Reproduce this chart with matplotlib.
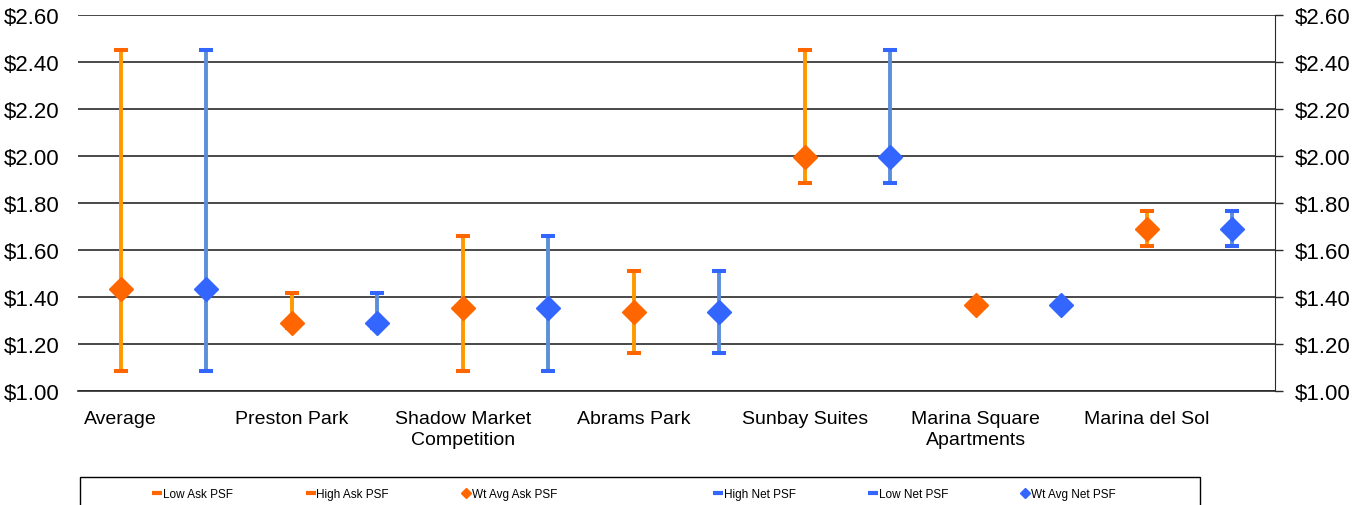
import matplotlib.pyplot as plt
from matplotlib.lines import Line2D
from matplotlib.patches import Rectangle
import numpy as np

plt.rcParams['font.family'] = ['Liberation Sans', 'DejaVu Sans']

# Data
categories = ["Average", "Preston Park", "Shadow Market\nCompetition", "Abrams Park",
              "Sunbay Suites", "Marina Square\nApartments", "Marina del Sol"]
low_ask = [1.085, 1.27, 1.085, 1.16, 1.885, 1.35, 1.615]
high_ask = [2.45, 1.415, 1.66, 1.51, 2.45, 1.38, 1.765]
avg_ask = [1.435, 1.29, 1.355, 1.335, 1.995, 1.365, 1.69]
low_net = [1.085, 1.27, 1.085, 1.16, 1.885, 1.35, 1.615]
high_net = [2.45, 1.415, 1.66, 1.51, 2.45, 1.38, 1.765]
avg_net = [1.435, 1.29, 1.355, 1.335, 1.995, 1.365, 1.69]
yticks = [1.00, 1.20, 1.40, 1.60, 1.80, 2.00, 2.20, 2.40, 2.60]

orange = "#FF6600"
orange_line = "#FF9900"
blue = "#3366FF"
blue_line = "#5B8FD9"

fig = plt.figure(figsize=(13.67, 5.06), dpi=100)
ax = fig.add_axes([78 / 1367, 1 - 392 / 506, (1275 - 78) / 1367, (392 - 16) / 506])

n = len(categories)
x_ask = np.arange(n) * 2 + 0.5
x_net = np.arange(n) * 2 + 1.5

# high-low bars
ax.vlines(x_ask, low_ask, high_ask, color=orange_line, lw=2.8, zorder=3)
ax.vlines(x_net, low_net, high_net, color=blue_line, lw=2.8, zorder=3)

cap = dict(ls="none", marker="_", ms=10, mew=2.9, zorder=4)
ax.plot(x_ask, low_ask, color=orange, label="Low Ask PSF", **cap)
ax.plot(x_ask, high_ask, color=orange, label="High Ask PSF", **cap)
ax.plot(x_ask, avg_ask, ls="none", marker="D", ms=12.5, color=orange, mec=orange,
        label="Wt Avg Ask PSF", zorder=5)
ax.plot(x_net, high_net, color=blue, label="High Net PSF", **cap)
ax.plot(x_net, low_net, color=blue, label="Low Net PSF", **cap)
ax.plot(x_net, avg_net, ls="none", marker="D", ms=12.5, color=blue, mec=blue,
        label="Wt Avg Net PSF", zorder=5)

ax.set_xlim(0, 2 * n)
ax.set_ylim(1.0, 2.6)
ax.set_yticks(yticks)
ax.set_yticklabels([f"${v:.2f}" for v in yticks])
ax.yaxis.grid(True, color="#2a2a2a", lw=1.2)
ax.set_axisbelow(True)
ax.tick_params(axis="y", length=0, labelsize=16, pad=13.5)
ax.set_xticks(x_ask)
ax.set_xticklabels(categories, fontsize=14, linespacing=1.3)
ax.tick_params(axis="x", length=0, pad=14)
for s in ["left", "top", "right"]:
    ax.spines[s].set_visible(False)
ax.spines["bottom"].set_color("#2a2a2a")
ax.spines["bottom"].set_linewidth(1.2)

ax2 = ax.twinx()
ax2.set_ylim(1.0, 2.6)
ax2.set_yticks(yticks)
ax2.set_yticklabels([f"${v:.2f}" for v in yticks])
ax2.tick_params(axis="y", length=6, width=1, color="#2a2a2a", labelsize=16, pad=8.5)
for s in ["left", "top", "bottom"]:
    ax2.spines[s].set_visible(False)
ax2.spines["right"].set_color("#2a2a2a")

# legend box (runs off the bottom of the figure)
fig.patches.append(Rectangle((80 / 1367, -0.05), 1120 / 1367, 0.05 + 28 / 506,
                             transform=fig.transFigure, fill=False, ec="black", lw=1))
handles = [
    Line2D([], [], ls="none", marker="_", color=orange, ms=7, mew=3),
    Line2D([], [], ls="none", marker="_", color=orange, ms=7, mew=3),
    Line2D([], [], ls="none", marker="D", color=orange, ms=5),
    Line2D([], [], ls="none"),  # empty slot, as in the reference legend
    Line2D([], [], ls="none", marker="_", color=blue, ms=7, mew=3),
    Line2D([], [], ls="none", marker="_", color=blue, ms=7, mew=3),
    Line2D([], [], ls="none", marker="D", color=blue, ms=5),
]
labels = ["Low Ask PSF", "High Ask PSF", "Wt Avg Ask PSF", "", "High Net PSF",
          "Low Net PSF", "Wt Avg Net PSF"]
fig.legend(handles, labels, loc="center left", ncol=7, frameon=False, fontsize=8.5,
           bbox_to_anchor=(148 / 1367, 11 / 506, 974 / 1367, 0.0), mode="expand",
           handlelength=0.6, handletextpad=0.2, borderpad=0)

fig.savefig("out.png", dpi=100)
